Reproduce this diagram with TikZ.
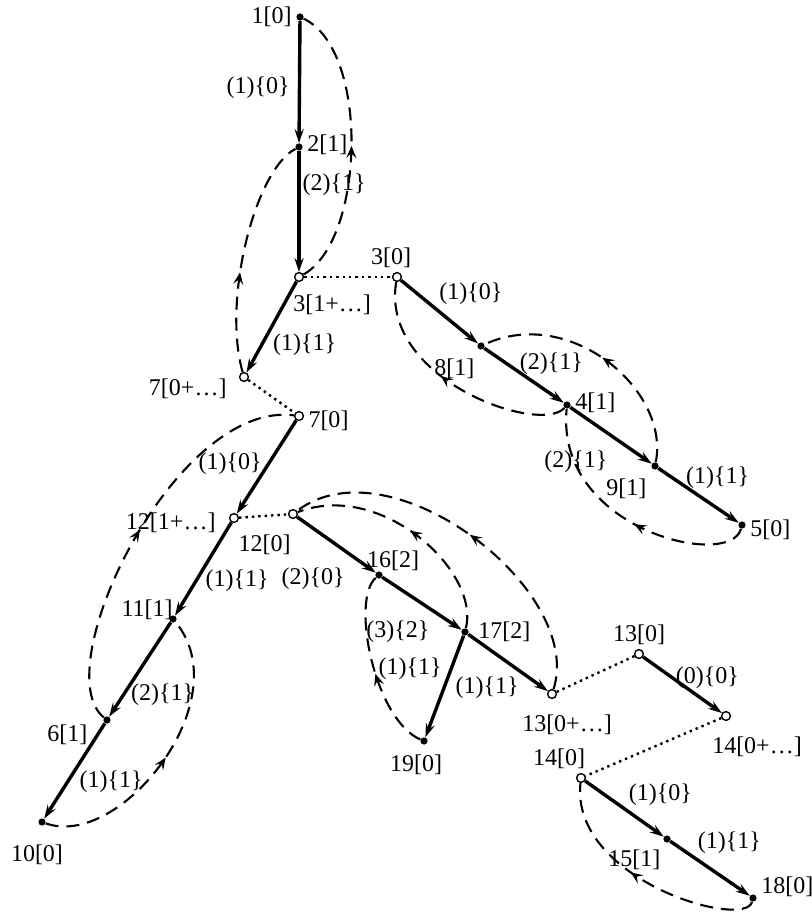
\documentclass[tikz,border=0pt]{standalone}
\usepackage{fontspec}
\setmainfont{Liberation Serif}
\usetikzlibrary{arrows.meta,decorations.markings}

\begin{document}
\begin{tikzpicture}[x=0.5pt,y=-0.5pt,
   >={Stealth[length=7pt,width=4.6pt,inset=2.6pt]},
   every node/.style={font=\fontsize{12}{14}\selectfont,inner sep=1pt},
   label distance=1pt,
   vtx/.style={circle,fill,inner sep=0pt,minimum size=3.6pt},
   hole/.style={circle,draw,fill=white,line width=0.7pt,inner sep=0pt,minimum size=4.4pt},
   tree/.style={line width=1.7pt,->},
   jump/.style={line width=1.2pt,dotted},
   back/.style={line width=1.05pt,dash pattern=on 6.5pt off 4pt,
     postaction={decorate},decoration={markings,
       mark=at position #1 with {\arrow{Stealth[length=6pt,width=5pt,inset=2.4pt]}}}},
   back/.default=.5]
  \useasboundingbox (0,0) rectangle (811,913);

  % vertices
  \node[vtx,label={left:1[0]}] (n1) at (300,17) {};
  \node[vtx,label={[yshift=1pt]right:2[1]}] (n2) at (299,147) {};
  \node[hole,label={[anchor=north west,xshift=-4pt,yshift=-4pt]below:3[1+\ldots]}] (n3x) at (299,277) {};
  \node[hole,label={[xshift=-3pt]above:3[0]}] (n3) at (397,277) {};
  \node[vtx,label={[yshift=-3pt]below left:8[1]}] (n8) at (481,346) {};
  \node[vtx,label={[yshift=1pt]right:4[1]}] (n4) at (567,405) {};
  \node[vtx,label={[xshift=-1pt,yshift=-3pt]below left:9[1]}] (n9) at (655,466) {};
  \node[vtx,label={[yshift=-2.5pt]right:5[0]}] (n5) at (742,525) {};
  \node[hole,label={[xshift=-4pt,yshift=-6pt]left:7[0+\ldots]}] (n7x) at (244,377) {};
  \node[hole,label={[yshift=-2.5pt]right:7[0]}] (n7) at (299,416) {};
  \node[hole,label={[xshift=-4.5pt,yshift=-2.5pt]left:12[1+\ldots]}] (n12x) at (234,518) {};
  \node[hole,label={[xshift=2.5pt,yshift=-6.5pt]below left:12[0]}] (n12) at (293,514) {};
  \node[vtx,label={[xshift=4pt,yshift=4.5pt]left:11[1]}] (n11) at (173,619) {};
  \node[vtx,label={[xshift=-6.5pt,yshift=1pt]below left:6[1]}] (n6) at (107,720) {};
  \node[vtx,label={[xshift=-2.5pt,yshift=-7pt]below:10[0]}] (n10) at (42,822) {};
  \node[vtx,label={[xshift=7pt,yshift=-2pt]above:16[2]}] (n16) at (379,575) {};
  \node[vtx,label={[xshift=2.5pt]right:17[2]}] (n17) at (465,632) {};
  \node[vtx,label={[xshift=-4pt,yshift=-2.5pt]below:19[0]}] (n19) at (424,741) {};
  \node[hole,label={[xshift=7.5pt,yshift=-5.5pt]below:13[0+\ldots]}] (n13x) at (552,694) {};
  \node[hole,label={above:13[0]}] (n13) at (639,654) {};
  \node[hole,label={[xshift=15.5pt,yshift=-5.5pt]below:14[0+\ldots]}] (n14x) at (726,716) {};
  \node[hole,label={[xshift=-11pt]above:14[0]}] (n14) at (581,778) {};
  \node[vtx,label={[yshift=-2pt]below left:15[1]}] (n15) at (667,839) {};
  \node[vtx,label={[yshift=5.5pt]right:18[0]}] (n18) at (753,898) {};

  % tree edges
  \draw[tree] (n1) -- node[pos=.55,left=3pt]{(1)\{0\}} (n2);
  \draw[tree] (n2) -- node[pos=.28,right]{(2)\{1\}} (n3x);
  \draw[tree] (n3x) -- node[pos=.7,right=4pt]{(1)\{1\}} (n7x);
  \draw[tree] (n3) -- node[pos=.45,above right]{(1)\{0\}} (n8);
  \draw[tree] (n8) -- node[pos=.4,anchor=south west,yshift=-4pt]{(2)\{1\}} (n4);
  \draw[tree] (n4) -- node[pos=.5,anchor=north east,yshift=-6pt]{(2)\{1\}} (n9);
  \draw[tree] (n9) -- node[pos=.3,anchor=south west,yshift=-4pt]{(1)\{1\}} (n5);
  \draw[tree] (n7) -- node[pos=.47,left=1.5pt]{(1)\{0\}} (n12x);
  \draw[tree] (n12x) -- node[pos=.63,right=3pt]{(1)\{1\}} (n11);
  \draw[tree] (n11) -- node[pos=.77,right=2pt]{(2)\{1\}} (n6);
  \draw[tree] (n6) -- node[pos=.61,right=4pt]{(1)\{1\}} (n10);
  \draw[tree] (n12) -- node[pos=.65,anchor=north east,yshift=-5.5pt]{(2)\{0\}} (n16);
  \draw[tree] (n16) -- node[pos=.64,anchor=north east,yshift=-3pt]{(3)\{2\}} (n17);
  \draw[tree] (n17) -- node[pos=.68,anchor=north east]{(1)\{1\}} (n13x);
  \draw[tree] (n17) -- node[pos=.32,left=3pt]{(1)\{1\}} (n19);
  \draw[tree] (n13) -- node[pos=.37,anchor=west]{(0)\{0\}} (n14x);
  \draw[tree] (n14) -- node[pos=.51,anchor=south west]{(1)\{0\}} (n15);
  \draw[tree] (n15) -- node[pos=.3,anchor=south west]{(1)\{1\}} (n18);

  % jumps
  \draw[jump] (n3x) -- (n3);
  \draw[jump] (n7x) -- (n7);
  \draw[jump] (n12x) -- (n12);
  \draw[jump] (n13x) -- (n13);
  \draw[jump] (n14x) -- (n14);

  % back arcs
  \draw[back] (n3x) .. controls (365,240) and (370,50) .. (n1);
  \draw[back=.42] (n7x) .. controls (222,300) and (255,170) .. (n2);
  \draw[back] (n9) .. controls (670,390) and (570,305) .. (n8);
  \draw[back=.55] (n4) .. controls (540,435) and (380,380) .. (n3);
  \draw[back=.45] (n5) .. controls (730,570) and (555,530) .. (n4);
  \draw[back] (n10) .. controls (120,850) and (240,700) .. (n11);
  \draw[back] (n6) .. controls (45,670) and (175,400) .. (n7);
  \draw[back=.45] (n19) .. controls (375,720) and (350,600) .. (n16);
  \draw[back] (n17) .. controls (480,570) and (380,480) .. (n12);
  \draw[back] (n13x) .. controls (585,590) and (390,440) .. (n12);
  \draw[back=.55] (n18) .. controls (745,930) and (570,880) .. (n14);
\end{tikzpicture}
\end{document}
